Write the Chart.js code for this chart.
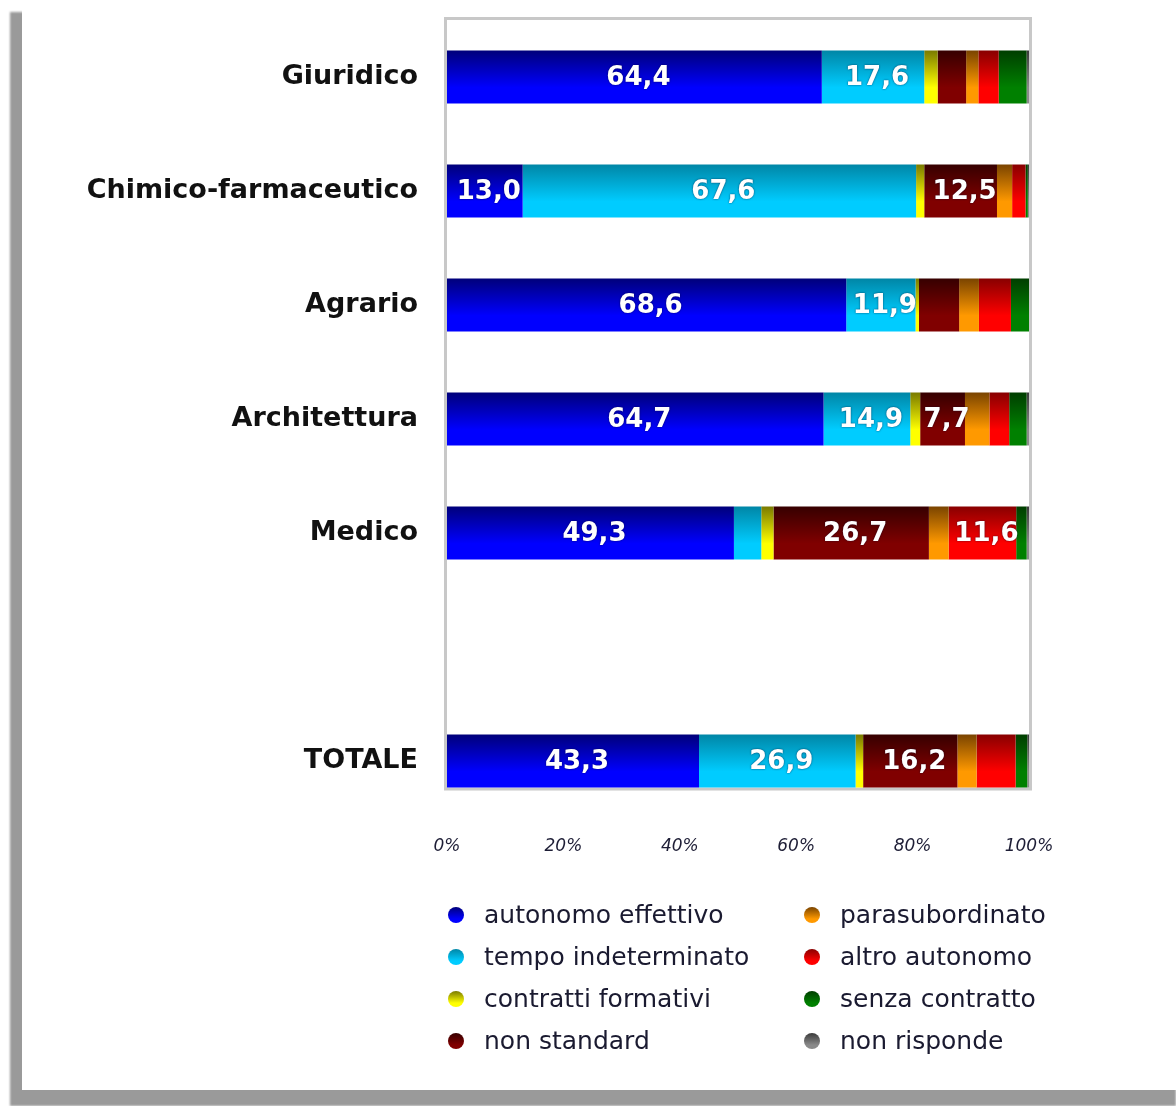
<!DOCTYPE html>
<html>
<head>
<meta charset="utf-8">
<script src="https://cdn.jsdelivr.net/npm/chart.js@4"></script>
<style>
  body { margin: 0; background: #fff; }
  .shadow { position: absolute; left: 10px; top: 12px; width: 1166px; height: 1094px; background: #9a9a9a; filter: blur(1px); }
  .card { position: absolute; left: 22px; top: 0; width: 1154px; height: 1090px; background: #fff; }
  #chart { position: absolute; left: 0; top: 0; }
</style>
</head>
<body>
<div class="shadow"></div>
<div class="card"></div>
<canvas id="chart" width="1176" height="1106"></canvas>
<script>
// categories (empty slot between Medico and TOTALE)
const categories = ['Giuridico', 'Chimico-farmaceutico', 'Agrario', 'Architettura', 'Medico', '', 'TOTALE'];
const xTicks = [0, 20, 40, 60, 80, 100];

// series values, % per category
const autonomoEffettivo   = [64.4, 13.0, 68.6, 64.7, 49.3, null, 43.3];
const tempoIndeterminato  = [17.6, 67.6, 11.9, 14.9, 4.7, null, 26.9];
const contrattiFormativi  = [2.3, 1.4, 0.6, 1.7, 2.1, null, 1.3];
const nonStandard         = [4.9, 12.5, 6.9, 7.7, 26.7, null, 16.2];
const parasubordinato     = [2.1, 2.6, 3.4, 4.2, 3.4, null, 3.3];
const altroAutonomo       = [3.5, 2.3, 5.5, 3.4, 11.6, null, 6.7];
const senzaContratto      = [4.8, 0.4, 3.1, 3.0, 1.8, null, 2.0];
const nonRisponde         = [0.4, 0.2, 0.0, 0.4, 0.4, null, 0.3];

const seriesNames = ['autonomo effettivo', 'tempo indeterminato', 'contratti formativi', 'non standard',
  'parasubordinato', 'altro autonomo', 'senza contratto', 'non risponde'];
const seriesValues = [autonomoEffettivo, tempoIndeterminato, contrattiFormativi, nonStandard,
  parasubordinato, altroAutonomo, senzaContratto, nonRisponde];
// [top colour, bottom colour] of the vertical gradient
const seriesColors = [
  ['#00007a', '#0000ff'],
  ['#0086a6', '#00ccff'],
  ['#7a7a00', '#ffff00'],
  ['#360000', '#800000'],
  ['#7a4400', '#ff9900'],
  ['#880000', '#ff0000'],
  ['#003e00', '#008000'],
  ['#3a3a3a', '#8a8a8a']
];

const BAR_H = 53;

function barGradient(ctx, i) {
  const chart = ctx.chart;
  const cols = seriesColors[i];
  const yScale = chart.scales.y;
  if (!chart.chartArea || !yScale) return cols[1];
  const yc = yScale.getPixelForValue(ctx.dataIndex);
  const g = chart.ctx.createLinearGradient(0, yc - BAR_H / 2, 0, yc + BAR_H / 2);
  g.addColorStop(0, cols[0]);
  g.addColorStop(0.7, cols[1]);
  g.addColorStop(1, cols[1]);
  return g;
}

// gray frame round the plot, ending at the last bar
const framePlugin = {
  id: 'frame',
  beforeDatasetsDraw(chart) {
    const { ctx, chartArea, scales } = chart;
    const yb = scales.y.getPixelForValue(categories.length - 1) + BAR_H / 2;
    ctx.save();
    ctx.strokeStyle = '#c8c8c8';
    ctx.lineWidth = 3;
    ctx.strokeRect(chartArea.left - 1.5, chartArea.top - 1.5,
      chartArea.right - chartArea.left + 3, yb - chartArea.top + 3);
    ctx.restore();
  }
};

// white value labels inside the bigger segments
const valueLabels = {
  id: 'valueLabels',
  afterDatasetsDraw(chart) {
    const ctx = chart.ctx;
    ctx.save();
    ctx.font = 'bold 26px "DejaVu Sans"';
    ctx.fillStyle = '#ffffff';
    ctx.textAlign = 'center';
    ctx.textBaseline = 'middle';
    ctx.shadowColor = 'rgba(0,0,40,0.7)';
    ctx.shadowBlur = 2;
    chart.data.datasets.forEach((ds, di) => {
      chart.getDatasetMeta(di).data.forEach((el, i) => {
        const v = ds.data[i];
        if (v == null || v < 7) return;
        const p = el.getProps(['x', 'y', 'base'], true);
        ctx.fillText(v.toFixed(1).replace('.', ','), (p.x + p.base) / 2 + 4, p.y + 1);
      });
    });
    ctx.restore();
  }
};

// two-column legend below the chart
const legendPlugin = {
  id: 'colLegend',
  afterDraw(chart) {
    const ctx = chart.ctx;
    const colX = [456, 812];
    const rowY = [915, 957, 999, 1041];
    ctx.save();
    ctx.font = '25px "DejaVu Sans"';
    ctx.textBaseline = 'middle';
    ctx.textAlign = 'left';
    seriesNames.forEach((name, i) => {
      const x = colX[Math.floor(i / 4)];
      const y = rowY[i % 4];
      const cols = seriesColors[i];
      const g = ctx.createLinearGradient(0, y - 8, 0, y + 8);
      g.addColorStop(0, cols[0]);
      g.addColorStop(0.75, cols[1]);
      g.addColorStop(1, cols[1]);
      ctx.beginPath();
      ctx.arc(x, y, 8, 0, Math.PI * 2);
      ctx.fillStyle = g;
      ctx.fill();
      ctx.fillStyle = '#1a1a30';
      ctx.fillText(name, x + 28, y + 1);
    });
    ctx.restore();
  }
};

new Chart(document.getElementById('chart').getContext('2d'), {
  type: 'bar',
  data: {
    labels: categories,
    datasets: seriesNames.map((name, i) => ({
      label: name,
      data: seriesValues[i],
      backgroundColor: ctx => barGradient(ctx, i),
      borderWidth: 0,
      categoryPercentage: 1,
      barPercentage: BAR_H / 114
    }))
  },
  options: {
    indexAxis: 'y',
    responsive: false,
    animation: false,
    layout: { padding: { left: 0, right: 147, top: 20, bottom: 248 } },
    plugins: {
      legend: { display: false },
      tooltip: { enabled: false }
    },
    scales: {
      x: {
        stacked: true,
        min: 0,
        max: 100,
        afterBuildTicks: scale => { scale.ticks = xTicks.map(v => ({ value: v })); },
        afterFit: scale => { scale.height = 40; scale.paddingLeft = 0; scale.paddingRight = 0; },
        grid: { display: false, drawTicks: false },
        border: { display: false },
        ticks: {
          callback: v => v + '%',
          padding: 18,
          color: '#1e1e36',
          font: { family: 'DejaVu Sans', size: 17, style: 'italic' }
        }
      },
      y: {
        stacked: true,
        afterFit: scale => { scale.width = 447; scale.paddingTop = 0; scale.paddingBottom = 0; },
        grid: { display: false, drawTicks: false },
        border: { display: false },
        ticks: {
          padding: 29,
          color: '#111111',
          font: { family: 'DejaVu Sans', size: 27, weight: 'bold' }
        }
      }
    }
  },
  plugins: [framePlugin, valueLabels, legendPlugin]
});
</script>
</body>
</html>
